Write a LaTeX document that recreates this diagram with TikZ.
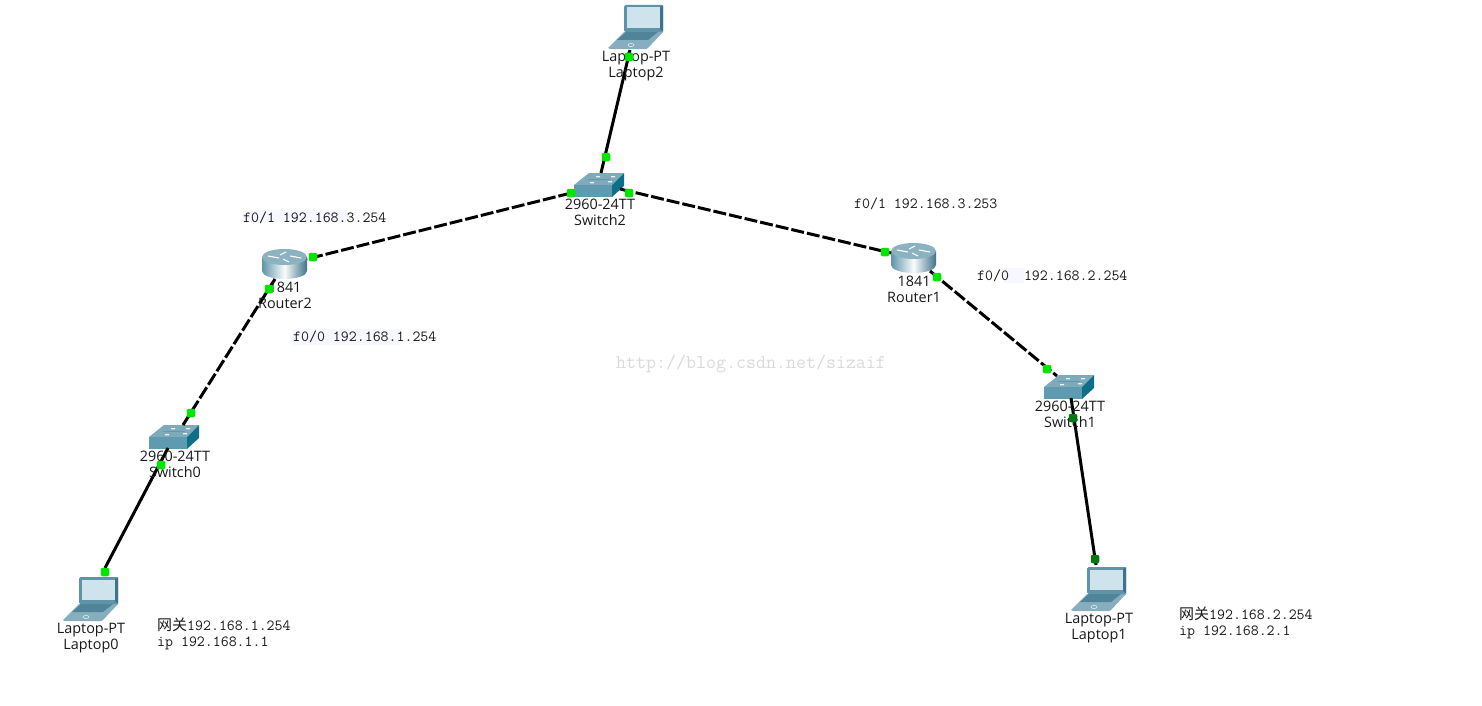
\documentclass[tikz,border=0pt]{standalone}
\usepackage{fontspec}
\setmainfont{Open Sans}
\newfontfamily\cjkfont{Noto Sans CJK SC}
\setmonofont{Latin Modern Mono}
\definecolor{scr}{HTML}{CFE3EC}
\definecolor{frameC}{HTML}{5F94A8}
\definecolor{frameD}{HTML}{3F7488}
\definecolor{baseC}{HTML}{86AEBE}
\definecolor{keyC}{HTML}{4F8499}
\definecolor{swFront}{HTML}{5F9BB0}
\definecolor{swTop}{HTML}{7FAABA}
\definecolor{swSide}{HTML}{0E7088}
\definecolor{dotG}{HTML}{00E600}
\definecolor{dotD}{HTML}{007A10}
\definecolor{wm}{HTML}{DADADA}
\tikzset{
  x=1pt,y=-1pt,
  wire/.style={line width=3pt,black},
  wirecut/.style={wire,dash pattern=on 13pt off 3pt},
  portdot/.style={rectangle,rounded corners=2pt,fill=dotG,minimum size=8.5pt,inner sep=0pt,outer sep=0pt},
  portdark/.style={portdot,fill=dotD},
  devlabel/.style={font=\fontsize{14.4}{16}\selectfont,inner sep=0pt,text=black!90,anchor=base},
  monolabel/.style={font=\fontsize{15.45}{16}\ttfamily,inner sep=0pt,anchor=west,text=black!90},
  laptop/.pic={
    \fill[baseC] (0,44) -- (2,45) -- (38,45) -- (40,44) -- (55,28) -- (16,28) -- cycle;
    \fill[keyC] (9,36) -- (40,36) -- (50,28) -- (18,28) -- cycle;
    \fill[frameC,rounded corners=1.5pt] (16,28) -- (16,1) -- (55,1) -- (55,28) -- cycle;
    \fill[frameD] (52,3) -- (55,1) -- (55,28) -- (52,25) -- cycle;
    \fill[scr] (19,3.5) rectangle (52,24);
    \draw[white!70!baseC,line width=.6pt] (23,41) ellipse (3 and 1.6);
  },
  switchicon/.pic={
    \fill[swTop] (0,12) -- (15,0) -- (50,0) -- (38,12) -- cycle;
    \fill[swFront] (0,12) rectangle (38,24);
    \fill[swSide] (38,12) -- (50,0) -- (50,13) -- (38,24) -- cycle;
    \fill[white!85!swTop] (16,9) rectangle +(4,1.4) (34,8) rectangle +(4,1.4) (22,3) rectangle +(4,1.4) (37,3) rectangle +(4,1.4);
    \draw[swFront,line width=.5pt] (14,6) -- (36,6);
  },
  routericon/.pic={
    \shade[left color=frameC,right color=frameD,middle color=white!88!scr]
      (0,8) -- (0,22) arc[start angle=180,end angle=0,x radius=22.5,y radius=8] -- (45,8) -- cycle;
    \fill[swTop!90!white] (22.5,8) ellipse (22.5 and 8);
    \draw[white,line width=1.1pt] (6,7) -- (17,9) (24,3) -- (18,6) (27,13) -- (21,10) (39,9) -- (28,7);
  }
}
\begin{document}
\begin{tikzpicture}
\useasboundingbox (0,0) rectangle (1482,706);
\fill[white] (0,0) rectangle (1482,706);
% faint label backdrops
\fill[blue!3] (243,210) rectangle (347,222) (293,329) rectangle (401,345) (1004,268) rectangle (1024,283);
% devices
\path (608,4) pic {laptop};
\path (63,576) pic {laptop};
\path (1071,566) pic {laptop};
\path (574,173) pic {switchicon};
\path (149,425) pic {switchicon};
\path (1044,375) pic {switchicon};
\path (262,249) pic {routericon};
\path (891,243) pic {routericon};
% connector ends
\coordinate (L2) at (630,50);
\coordinate (S2t) at (601,173);
\coordinate (S2l) at (571,193);
\coordinate (S2r) at (620,189);
\coordinate (R2r) at (307,259);
\coordinate (R2b) at (275,279);
\coordinate (R1l) at (891,253);
\coordinate (R1r) at (930,271);
\coordinate (S1t) at (1057,376);
\coordinate (S1b) at (1071,398);
\coordinate (S0t) at (183,425);
\coordinate (S0b) at (168,448);
\coordinate (L0) at (105,568);
\coordinate (L1) at (1096,565);
\draw[wire] (L2) -- (S2t);
\draw[wirecut] (S2l) -- (R2r);
\draw[wirecut] (S2r) -- (R1l);
\draw[wirecut] (R1r) -- (S1t);
\draw[wirecut] (R2b) -- (S0t);
\draw[wire] (S0b) -- (L0);
\draw[wire] (S1b) -- (L1);
% device labels
\node[devlabel] (tL2a) at (636,62) {Laptop-PT};
\node[devlabel] (tL2b) at (636,78) {Laptop2};
\node[devlabel] (tS2a) at (600,209) {2960-24TT};
\node[devlabel] (tS2b) at (600,225) {Switch2};
\node[devlabel] (tR2a) at (285,292) {1841};
\node[devlabel] (tR2b) at (285,308) {Router2};
\node[devlabel] (tR1a) at (914,286) {1841};
\node[devlabel] (tR1b) at (914,302) {Router1};
\node[devlabel] (tS0a) at (175,461) {2960-24TT};
\node[devlabel] (tS0b) at (175,477) {Switch0};
\node[devlabel] (tS1a) at (1070,411) {2960-24TT};
\node[devlabel] (tS1b) at (1070,427) {Switch1};
\node[devlabel] (tL0a) at (91,633) {Laptop-PT};
\node[devlabel] (tL0b) at (91,649) {Laptop0};
\node[devlabel] (tL1a) at (1099,623) {Laptop-PT};
\node[devlabel] (tL1b) at (1099,639) {Laptop1};
% port dots
\node[portdot] (d1) at (629,57) {};
\node[portdot] (d2) at (606,157) {};
\node[portdot] (d3) at (571,193) {};
\node[portdot] (d4) at (629,193) {};
\node[portdot] (d5) at (313,257) {};
\node[portdot] (d6) at (269,289) {};
\node[portdot] (d7) at (885,252) {};
\node[portdot] (d8) at (937,277) {};
\node[portdot] (d9) at (1047,369) {};
\node[portdark] (d10) at (1073,418) {};
\node[portdark] (d11) at (1095,559) {};
\node[portdot] (d12) at (191,413) {};
\node[portdot] (d13) at (161,465) {};
\node[portdot] (d14) at (105,572) {};
% address notes
\node[monolabel] (n1) at (243,218) {f0/1 192.168.3.254};
\node[monolabel] (n2) at (293,337) {f0/0 192.168.1.254};
\node[monolabel] (n3) at (854,204) {f0/1 192.168.3.253};
\node[monolabel] (n4) at (977,276) {f0/0\hspace{15pt}192.168.2.254};
\node[monolabel] (n5) at (157,625) {{\cjkfont\fontsize{15}{16}\selectfont 网关}192.168.1.254};
\node[monolabel] (n6) at (157,643) {ip 192.168.1.1};
\node[monolabel] (n7) at (1179,614) {{\cjkfont\fontsize{15}{16}\selectfont 网关}192.168.2.254};
\node[monolabel] (n8) at (1179,632) {ip 192.168.2.1};
\node[anchor=west,inner sep=0pt,font=\fontsize{19.4}{20}\ttfamily,text=wm] (wmk) at (616,364) {http://blog.csdn.net/sizaif};
\end{tikzpicture}
\end{document}
